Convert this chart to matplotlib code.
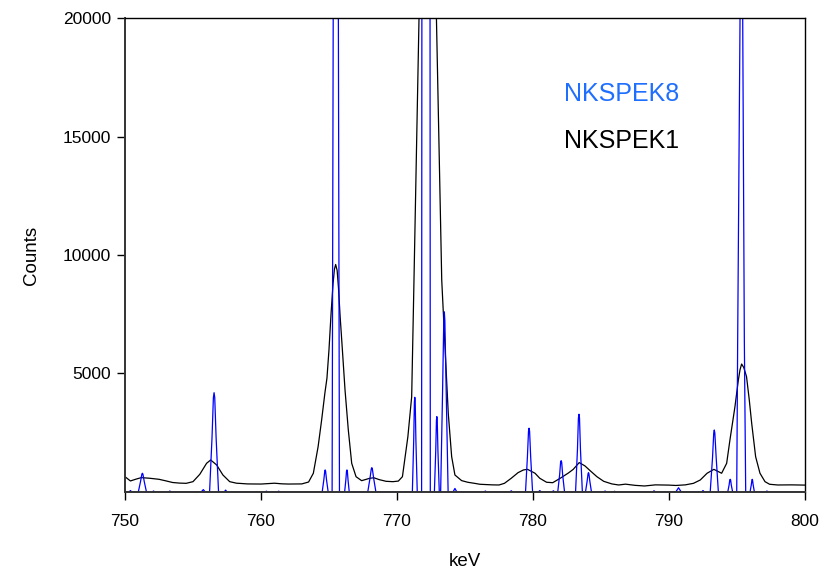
import matplotlib
matplotlib.use("Agg")
import matplotlib.pyplot as plt

plt.rcParams['font.family'] = ['Liberation Sans', 'DejaVu Sans']

# NKSPEK1 (broad detector spectrum)
nkspek1_kev = [750.0, 750.4, 750.8, 751.2, 751.8, 752.5, 753.0, 753.5, 754.0, 754.5,
               755.0, 755.5, 756.0, 756.3, 756.74, 757.2, 757.7, 758.2, 758.5, 759.0,
               760.0, 761.0, 761.5, 762.0, 763.0, 763.5, 763.85, 764.2, 764.46, 764.7,
               764.85, 765.0, 765.15, 765.3, 765.4, 765.49, 765.6, 765.7, 765.82, 765.95,
               766.18, 766.42, 766.67, 766.99,
               767.4, 768.0, 768.3, 768.7, 769.2, 769.7, 770.1, 770.4, 770.8, 771.08,
               771.25, 771.62, 771.9, 772.2, 772.5, 772.9, 773.29, 773.53, 773.77, 774.02,
               774.26, 774.75, 775.2, 775.7, 776.1, 777.0, 777.5, 777.9, 778.4, 778.9,
               779.3, 779.6, 780.15, 780.5, 781.0, 781.45, 782.0, 782.6, 782.96, 783.4,
               783.82, 784.2, 784.7, 785.2, 785.8, 786.3, 786.8, 787.5, 788.2, 789.0,
               790.0, 790.5, 791.2, 791.8, 792.3, 792.8, 793.3, 793.87, 794.24, 794.48,
               794.85, 795.1, 795.22, 795.34, 795.5, 795.7, 795.9, 796.08, 796.37, 796.69,
               797.06, 797.4, 798.0, 799.0, 800.0]
nkspek1_counts = [645, 465, 540, 605, 580, 535, 470, 400, 375, 365,
                  435, 745, 1210, 1350, 1140, 717, 435, 370, 360, 340,
                  335, 370, 345, 335, 340, 420, 790, 1910, 3040, 4180,
                  4800, 6000, 7500, 8800, 9400, 9600, 9350, 8600, 7400, 6300,
                  4300, 2620, 1210, 645,
                  477, 578, 600, 520, 450, 435, 460, 645, 2330, 4020,
                  8945, 20000, 33000, 40000, 33000, 20000, 8945, 6130, 3320, 1490,
                  717, 480, 410, 365, 325, 300, 295, 365, 578, 815,
                  930, 955, 790, 578, 410, 392, 578, 800, 955, 1240,
                  1100, 900, 645, 450, 340, 295, 330, 280, 253, 300,
                  290, 275, 300, 365, 506, 790, 955, 790, 1210, 2190,
                  3600, 4725, 5150, 5400, 5250, 4870, 3900, 2900, 1490, 790,
                  435, 325, 295, 300, 290]

# NKSPEK8 (high resolution spectrum)
nkspek8_kev = [750.0, 750.3, 750.4, 750.5,
               750.98, 751.14, 751.24, 751.28, 751.32, 751.42, 751.58,
               752.0, 752.1, 752.2, 753.2, 753.3, 753.4,
               755.6, 755.76, 755.9,
               756.22, 756.40, 756.50, 756.55, 756.60, 756.70, 756.88,
               757.3, 757.4, 757.5,
               760.3, 760.4, 760.5, 761.2, 761.3, 761.4,
               764.5, 764.62, 764.69, 764.72, 764.75, 764.82, 764.94,
               765.23, 765.31, 765.5, 765.69, 765.77,
               766.15, 766.24, 766.29, 766.32, 766.35, 766.40, 766.49,
               767.85, 768.01, 768.11, 768.15, 768.19, 768.29, 768.45,
               771.13, 771.23, 771.28, 771.31, 771.34, 771.39, 771.49,
               771.81, 771.83, 772.13, 772.43, 772.45,
               772.75, 772.85, 772.90, 772.93, 772.96, 773.01, 773.11,
               773.21, 773.35, 773.44, 773.48, 773.52, 773.62, 773.76,
               774.12, 774.26, 774.40,
               776.4, 776.5, 776.6, 778.3, 778.4, 778.5,
               779.45, 779.59, 779.67, 779.71, 779.75, 779.83, 779.97,
               780.4, 780.5, 780.6, 781.4, 781.5, 781.6,
               781.82, 781.96, 782.03, 782.07, 782.11, 782.18, 782.32,
               783.13, 783.27, 783.34, 783.38, 783.42, 783.49, 783.63,
               783.86, 783.98, 784.05, 784.08, 784.11, 784.18, 784.30,
               785.2, 785.3, 785.4, 785.9, 786.0, 786.1,
               788.8, 788.9, 789.0,
               790.5, 790.7, 790.9,
               792.4, 792.5, 792.6,
               793.03, 793.20, 793.29, 793.33, 793.37, 793.47, 793.63,
               794.32, 794.42, 794.47, 794.50, 794.53, 794.58, 794.68,
               794.98, 795.05, 795.22, 795.32, 795.42, 795.54, 795.64,
               795.96, 796.05, 796.10, 796.12, 796.14, 796.19, 796.28,
               797.1, 797.2, 797.3,
               800.0]
nkspek8_counts = [0, 0, 60, 0,
                  0, 430, 750, 790, 750, 430, 0,
                  0, 40, 0, 0, 40, 0,
                  0, 100, 0,
                  0, 2300, 3980, 4190, 3980, 2300, 0,
                  0, 80, 0,
                  0, 35, 0, 0, 35, 0,
                  0, 510, 880, 930, 880, 510, 0,
                  0, 20000, 67000, 20000, 0,
                  0, 510, 880, 930, 880, 510, 0,
                  0, 560, 970, 1025, 970, 560, 0,
                  0, 2200, 3800, 3995, 3800, 2200, 0,
                  0, 20000, 300000, 20000, 0,
                  0, 1750, 3020, 3180, 3020, 1750, 0,
                  0, 4180, 7220, 7600, 7220, 4180, 0,
                  0, 150, 0,
                  0, 40, 0, 0, 50, 0,
                  0, 1480, 2560, 2690, 2560, 1480, 0,
                  0, 60, 0, 0, 50, 0,
                  0, 730, 1250, 1320, 1250, 730, 0,
                  0, 1800, 3120, 3280, 3120, 1800, 0,
                  0, 450, 775, 815, 775, 450, 0,
                  0, 40, 0, 0, 30, 0,
                  0, 50, 0,
                  0, 180, 0,
                  0, 60, 0,
                  0, 1440, 2490, 2616, 2490, 1440, 0,
                  0, 295, 510, 535, 510, 295, 0,
                  0, 6400, 20000, 26000, 20000, 6400, 0,
                  0, 295, 510, 535, 510, 295, 0,
                  0, 40, 0,
                  0]

x_ticks = [750, 760, 770, 780, 790, 800]
y_ticks = [5000, 10000, 15000, 20000]

fig = plt.figure(figsize=(8.19, 5.72), dpi=100)
ax = fig.add_axes([0.1526, 0.1399, 0.8303, 0.8286])

ax.plot(nkspek1_kev, nkspek1_counts, color='black', lw=0.9)
ax.plot(nkspek8_kev, nkspek8_counts, color='#0000ff', lw=0.9)

ax.set_xlim(750, 800)
ax.set_ylim(0, 20000)
ax.set_xticks(x_ticks)
ax.set_yticks(y_ticks)
ax.tick_params(direction='out', length=6, width=1, labelsize=12.5)
ax.tick_params(axis='x', pad=10)
ax.tick_params(axis='y', pad=4)
ax.set_xlabel('keV', fontsize=13.5, labelpad=17)
ax.set_ylabel('Counts', fontsize=13.5, labelpad=16)

for side in ['left', 'bottom']:
    ax.spines[side].set_linewidth(1.4)
    ax.spines[side].set_color('#333333')
for side in ['top', 'right']:
    ax.spines[side].set_linewidth(1.0)

ax.text(786.5, 16800, 'NKSPEK8', color='#1f6fff', fontsize=18, ha='center', va='center')
ax.text(786.5, 14800, 'NKSPEK1', color='black', fontsize=18, ha='center', va='center')

fig.savefig('out.png', dpi=100)
